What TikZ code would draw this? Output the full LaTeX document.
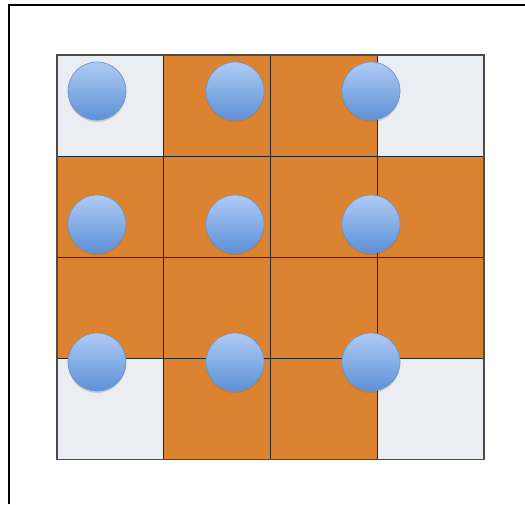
\documentclass[tikz,border=0pt]{standalone}
\usetikzlibrary{shadows}
\definecolor{tileor}{RGB}{220,131,49}
\definecolor{tilelt}{RGB}{234,237,242}
\definecolor{balltop}{RGB}{174,203,245}
\definecolor{ballbot}{RGB}{94,145,214}
\definecolor{ballrim}{RGB}{108,148,206}
\tikzset{
  frm/.style={black, line width=2.6pt},
  orcell/.style={fill=tileor},
  ltcell/.style={fill=tilelt},
  gridln/.style={black!85, line width=1.1pt},
  gridrim/.style={black!70, line width=1.8pt},
  ball/.style={circle, minimum size=58pt, inner sep=0pt, draw=ballrim, line width=0.7pt,
               top color=balltop, bottom color=ballbot,
               drop shadow={shadow xshift=0pt, shadow yshift=-2pt, opacity=0.25, fill=black!60}},
}

\begin{document}
\begin{tikzpicture}[x=1pt, y=-1pt]
  \useasboundingbox (0,0) rectangle (525,504);
  % frame
  \draw[frm] (9,504) -- (9,5) -- (525,5);
  % tiles
  \foreach \c in {0,...,3}
    \foreach \r in {0,...,3}
      \fill[orcell] (56.7+106.8*\c, 55+101.1*\r) rectangle ++(106.8,101.1);
  \foreach \c/\r in {0/0,3/0,0/3,3/3}
    \fill[ltcell] (56.7+106.8*\c, 55+101.1*\r) rectangle ++(106.8,101.1);
  \foreach \c in {1,2,3}
    \draw[gridln] (56.7+106.8*\c, 55) -- ++(0,404.4);
  \foreach \r in {1,2,3}
    \draw[gridln] (56.7, 55+101.1*\r) -- ++(427.2,0);
  \draw[gridrim] (56.7,55) rectangle (483.9,459.4);
  % balls
  \foreach \bx [count=\i] in {97,235,371}
    \foreach \by [count=\j] in {91,224,362}
      \node[ball] (b\i\j) at (\bx,\by) {};
\end{tikzpicture}
\end{document}
